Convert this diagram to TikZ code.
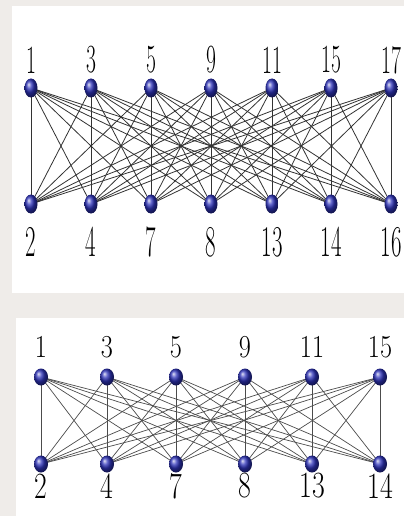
\documentclass[tikz,border=0pt]{standalone}
\usetikzlibrary{shapes.geometric}
\definecolor{bgc}{RGB}{239,236,233}
\definecolor{ballblue}{RGB}{45,50,185}
\pgfdeclarelayer{back}
\pgfdeclarelayer{edges}
\pgfsetlayers{back,edges,main}
\tikzset{
  vtx/.style={ellipse, minimum width=13pt, minimum height=19pt, inner sep=0pt, shading=ball, ball color=ballblue},
  vtxb/.style={vtx, minimum width=14pt, minimum height=17pt},
  edgeA/.style={draw=black!80, line width=0.8pt},
  edgeB/.style={draw=black!70, line width=0.7pt},
  lbl/.style={inner sep=0pt, text=black}
}
\newcommand{\lblA}[1]{\scalebox{0.54}[1]{\fontsize{40}{40}\selectfont #1}}
\newcommand{\lblAb}[1]{\scalebox{0.52}[1]{\fontsize{44}{44}\selectfont #1}}
\newcommand{\lblB}[1]{\scalebox{0.82}[1]{\fontsize{32}{32}\selectfont #1}}
\newcommand{\lblBb}[1]{\scalebox{0.75}[1]{\fontsize{37}{37}\selectfont #1}}
\begin{document}
\begin{tikzpicture}[x=1pt,y=-1pt]
\useasboundingbox (0,0) rectangle (404,516);
\begin{pgfonlayer}{back}
\fill[bgc] (0,0) rectangle (404,516);
\fill[white] (12,6) rectangle (404,293);
\fill[white] (16,318) rectangle (404,516);
\end{pgfonlayer}
% top panel
\foreach \x/\t/\b [count=\i] in {31/1/2, 91/3/4, 151/5/7, 211/9/8, 272/11/13, 331/15/14, 391/17/16}{
  \node[vtx] (t\i) at (\x,88) {};
  \node[vtx] (b\i) at (\x,204) {};
  \node[lbl] (lt\i) at (\x,60) {\lblA{\t}};
  \node[lbl] (lb\i) at (\x,242) {\lblAb{\b}};
}
\begin{pgfonlayer}{edges}
\foreach \i in {1,...,7}{
  \foreach \j in {1,...,7}{
    \draw[edgeA] (t\i.center) -- (b\j.center);
  }
}
\end{pgfonlayer}
% bottom panel
\foreach \x/\t/\b [count=\i] in {41/1/2, 107/3/4, 176/5/7, 245/9/8, 312/11/13, 380/15/14}{
  \node[vtxb] (u\i) at (\x,377) {};
  \node[vtxb] (v\i) at (\x,464) {};
  \node[lbl] (lu\i) at (\x,347) {\lblB{\t}};
  \node[lbl] (lv\i) at (\x,486) {\lblBb{\b}};
}
\begin{pgfonlayer}{edges}
\foreach \i in {1,...,6}{
  \foreach \j in {1,...,6}{
    \draw[edgeB] (u\i.center) -- (v\j.center);
  }
}
\end{pgfonlayer}
\end{tikzpicture}
\end{document}
